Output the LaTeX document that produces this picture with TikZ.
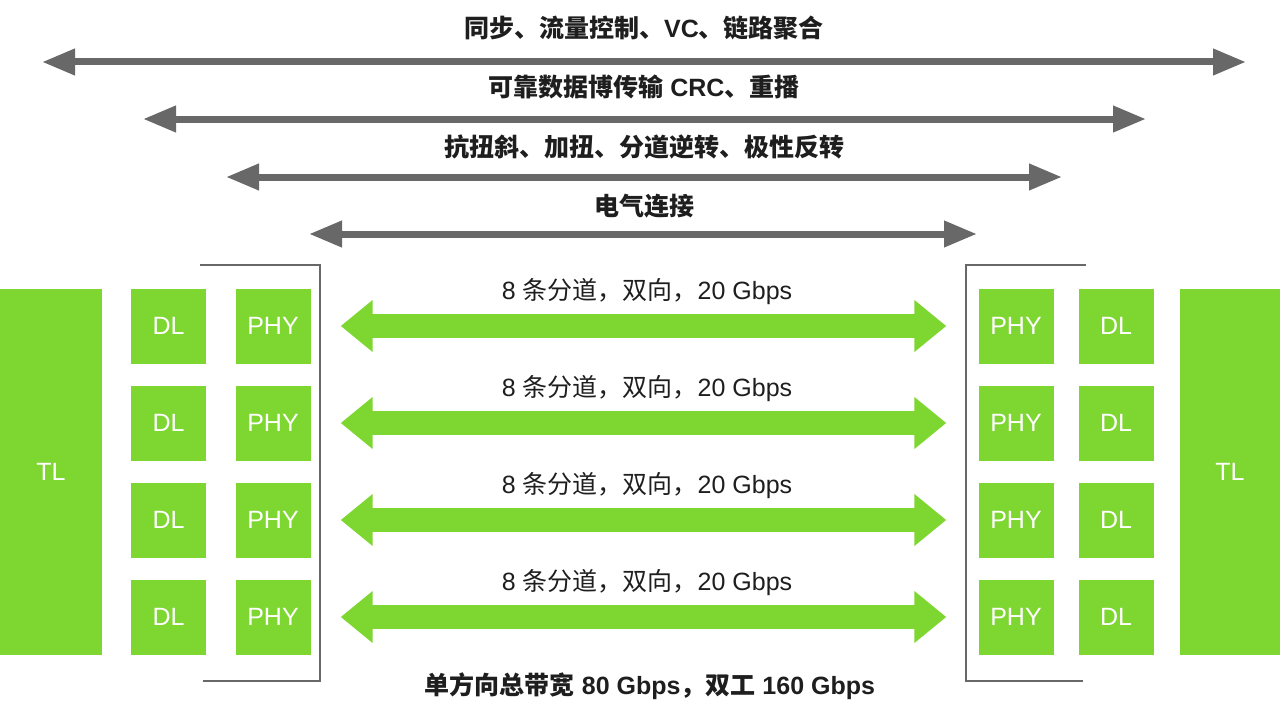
\documentclass[tikz,border=0pt]{standalone}
\usepackage{fontspec}
\setmainfont{Liberation Sans}
\newfontfamily\cjk{Noto Sans CJK SC}
\usetikzlibrary{arrows.meta, positioning}
\definecolor{LinkGreen}{RGB}{126, 214, 48}
\definecolor{LinkGray}{RGB}{104, 104, 104}
\definecolor{LinkText}{RGB}{30, 30, 30}
\newcommand{\zh}[1]{{\cjk #1}}

\begin{document}
\begin{tikzpicture}[x=1pt, y=-1pt,
    block/.style={fill=LinkGreen, text=white, inner sep=0pt, minimum width=75pt, minimum height=75pt, font=\fontsize{25}{29}\selectfont},
    layer/.style={text=LinkText, font=\fontsize{25}{29}\selectfont\bfseries},
    lanetext/.style={text=LinkText, font=\fontsize{25}{29}\selectfont},
    grayarrow/.style={{Triangle[length=33pt, width=25pt]}-{Triangle[length=33pt, width=25pt]}, line width=7pt, LinkGray},
    lanearrow/.style={{Triangle[length=32pt, width=50pt]}-{Triangle[length=32pt, width=50pt]}, line width=24pt, LinkGreen, shorten <=30pt, shorten >=32pt},
    bracket/.style={line width=2.5pt, LinkGray}]

        \useasboundingbox (0,0) rectangle (1280,709);

        % --- LAYER SPANS ---
        \node[layer] (sync) at (644, 28) {\zh{同步、流量控制、}VC\zh{、链路聚合}};
        \node[layer] (retry) at (644, 87) {\zh{可靠数据博传输} CRC\zh{、重播}};
        \node[layer] (skew) at (644, 147) {\zh{抗扭斜、加扭、分道逆转、极性反转}};
        \node[layer] (elec) at (644, 206) {\zh{电气连接}};

        \coordinate (syncL) at (42, 62);   \coordinate (syncR) at (1246, 62);
        \coordinate (retryL) at (143, 119); \coordinate (retryR) at (1146, 119);
        \coordinate (skewL) at (226, 177);  \coordinate (skewR) at (1062, 177);
        \coordinate (elecL) at (309, 234);  \coordinate (elecR) at (977, 234);

        \draw[grayarrow] (syncL) -- (syncR);
        \draw[grayarrow] (retryL) -- (retryR);
        \draw[grayarrow] (skewL) -- (skewR);
        \draw[grayarrow] (elecL) -- (elecR);

        % --- TRANSACTION LAYER ---
        \node[block, minimum width=102pt, minimum height=366pt] (tlL) at (51, 472) {TL};
        \node[block, minimum width=100pt, minimum height=366pt] (tlR) at (1230, 472) {TL};

        % --- LEFT SIDE ---
        \node[block] (dlL1) at (168.5, 326) {DL};
        \node[block] (dlL2) at (168.5, 423) {DL};
        \node[block] (dlL3) at (168.5, 520) {DL};
        \node[block] (dlL4) at (168.5, 617) {DL};
        \node[block] (phyL1) at (273, 326) {PHY};
        \node[block] (phyL2) at (273, 423) {PHY};
        \node[block] (phyL3) at (273, 520) {PHY};
        \node[block] (phyL4) at (273, 617) {PHY};

        % --- RIGHT SIDE ---
        \node[block] (phyR1) at (1016, 326) {PHY};
        \node[block] (phyR2) at (1016, 423) {PHY};
        \node[block] (phyR3) at (1016, 520) {PHY};
        \node[block] (phyR4) at (1016, 617) {PHY};
        \node[block] (dlR1) at (1116, 326) {DL};
        \node[block] (dlR2) at (1116, 423) {DL};
        \node[block] (dlR3) at (1116, 520) {DL};
        \node[block] (dlR4) at (1116, 617) {DL};

        % Brackets
        \draw[bracket] (200, 265) -- (320, 265) -- (320, 681) -- (203, 681);
        \draw[bracket] (1086, 265) -- (966, 265) -- (966, 681) -- (1083, 681);

        % Lanes
        \draw[lanearrow] (phyL1.east) -- (phyR1.west);
        \draw[lanearrow] (phyL2.east) -- (phyR2.west);
        \draw[lanearrow] (phyL3.east) -- (phyR3.west);
        \draw[lanearrow] (phyL4.east) -- (phyR4.west);

        \node[lanetext] (lane1) at (647, 292) {8 \zh{条分道，双向，}20 Gbps};
        \node[lanetext] (lane2) at (647, 389) {8 \zh{条分道，双向，}20 Gbps};
        \node[lanetext] (lane3) at (647, 486) {8 \zh{条分道，双向，}20 Gbps};
        \node[lanetext] (lane4) at (647, 583) {8 \zh{条分道，双向，}20 Gbps};

        % --- TOTAL ---
        \node[layer] (total) at (650, 686) {\zh{单方向总带宽} 80 Gbps\zh{，双工} 160 Gbps};

    \end{tikzpicture}
\end{document}
